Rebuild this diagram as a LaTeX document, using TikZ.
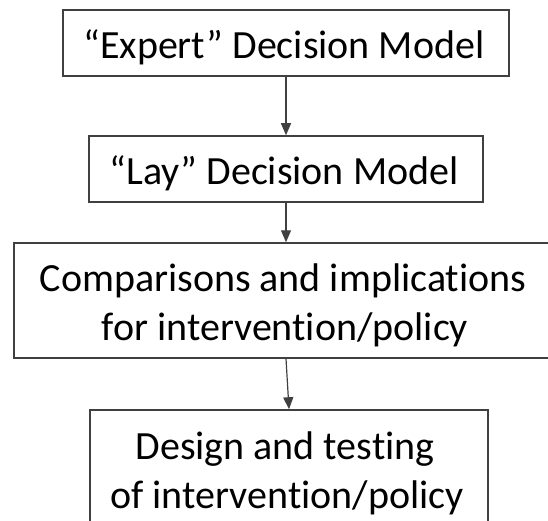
\documentclass[tikz,border=0pt]{standalone}
\usepackage{fontspec}
\setmainfont{Carlito}[Ligatures=NoCommon]
\usetikzlibrary{arrows.meta}
\definecolor{linegray}{HTML}{404040}
\begin{document}
\begin{tikzpicture}[x=1pt,y=-1pt,
  box/.style={draw=linegray, line width=1.5pt, inner sep=0pt},
  label/.style={anchor=base, inner sep=0pt, text=black,
                font=\fontsize{40}{49}\selectfont},
  flow/.style={draw=linegray, line width=1.2pt,
               -{Triangle[width=10pt,length=12pt]}}]
\useasboundingbox (0,0) rectangle (548,521);
\clip (0,0) rectangle (548,521);
% the four stages, top to bottom
\node[box, minimum width=446pt, minimum height=66pt] (expert) at (286,43) {};
\node[box, minimum width=394pt, minimum height=66pt] (lay) at (286,169) {};
\node[box, minimum width=544pt, minimum height=115pt] (comp) at (286,300.5) {};
\node[box, minimum width=398pt, minimum height=115pt] (design) at (289,467.5) {};
% their texts, set line by line on fixed baselines
\node[label] (expert-t) at (284,59) {“Expert” Decision Model};
\node[label] (lay-t) at (284,185) {“Lay” Decision Model};
\node[label] (comp-t1) at (283,291) {Comparisons and implications};
\node[label] (comp-t2) at (285,340) {for intervention/policy};
\node[label] (design-t1) at (285,459) {Design and testing};
\node[label] (design-t2) at (287,508) {of intervention/policy};
% connectors
\draw[flow] (expert.south) -- (lay.north);
\draw[flow] (lay.south) -- (comp.north);
\draw[flow] (comp.south) -- (design.north);
\end{tikzpicture}
\end{document}
